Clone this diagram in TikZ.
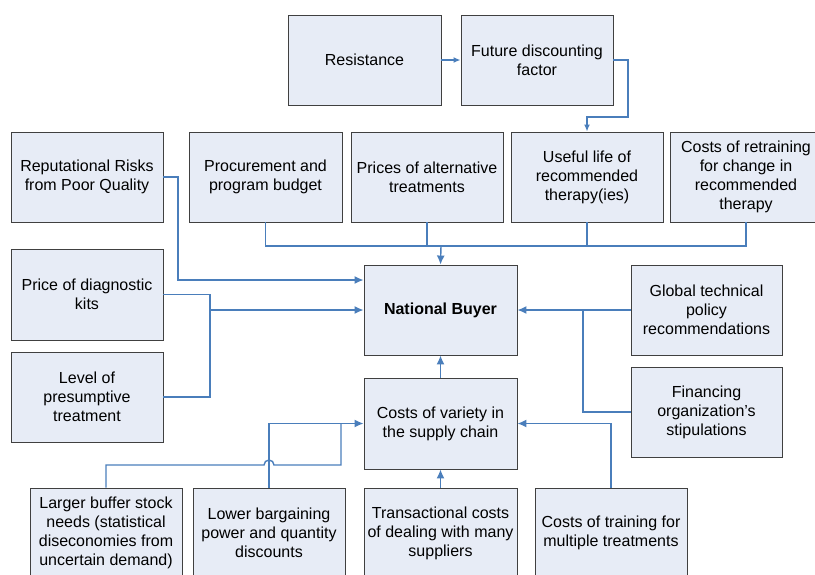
\documentclass[tikz,border=0pt]{standalone}
\usepackage{fontspec}
\setmainfont{Liberation Sans}
\usetikzlibrary{arrows.meta}
\definecolor{boxfill}{HTML}{E7ECF6}
\definecolor{boxline}{HTML}{404040}
\definecolor{linkblue}{HTML}{4A7EBB}
\tikzset{
	factor/.style={draw=boxline, line width=0.9pt, fill=boxfill, minimum width=152pt, minimum height=90pt, inner sep=2pt, align=center, font=\fontsize{16}{19}\selectfont},
	wire/.style={draw=linkblue, line width=1.4pt},
	link/.style={wire, -{Latex[length=9pt,width=8pt]}}
}

\begin{document}
\begin{tikzpicture}[x=1pt, y=-1pt]
		%%%%% START %%%%%
		\useasboundingbox (0, 0) rectangle (815, 574);
		
		% top chain
		\node[factor, minimum width=153pt] (res) at (364.5, 60) {Resistance};
		\node[factor] (fut) at (537, 60) {Future discounting\\factor};
		
		% second row
		\node[factor] (rep) at (87, 177) {Reputational Risks\\from Poor Quality};
		\node[factor, minimum width=153pt] (proc) at (265.5, 177) {Procurement and\\program budget};
		\node[factor] (prices) at (427, 177) {Prices of alternative\\treatments};
		\node[factor] (useful) at (587, 177) {Useful life of\\recommended\\therapy(ies)};
		\node[factor] (retrain) at (746, 177) {Costs of retraining\\for change in\\recommended\\therapy};
		
		% middle
		\node[factor, minimum height=91pt] (diag) at (87, 294.5) {Price of diagnostic\\kits};
		\node[factor] (level) at (87, 397) {Level of\\presumptive\\treatment};
		\node[factor, minimum width=153pt, font=\fontsize{16}{19}\selectfont\bfseries] (nb) at (440.5, 310) {National Buyer};
		\node[factor, minimum height=91pt, minimum width=153pt] (cov) at (440.5, 423.5) {Costs of variety in\\the supply chain};
		\node[factor, minimum width=151pt] (glob) at (706.5, 310) {Global technical\\policy\\recommendations};
		\node[factor, minimum width=151pt] (fin) at (706.5, 412) {Financing\\organization's\\stipulations};
		
		% bottom row
		\node[factor] (buffer) at (106, 533) {Larger buffer stock\\needs (statistical\\diseconomies from\\uncertain demand)};
		\node[factor] (lower) at (269, 533) {Lower bargaining\\power and quantity\\discounts};
		\node[factor, minimum width=153pt] (trans) at (440.5, 533) {Transactional costs\\of dealing with many\\suppliers};
		\node[factor] (train) at (611, 533) {Costs of training for\\multiple treatments};
		
		% connectors
		\coordinate (fbend) at (628, 117);
		\coordinate (topbus) at (441, 246);
		\coordinate (repbend) at (178, 280);
		\coordinate (kbus) at (210, 310);
		\coordinate (gbus) at (583, 310);
		\coordinate (hopl) at (264, 465);
		\coordinate (bbus) at (341, 465);
		
		\draw[link, -{Latex[length=7pt,width=6pt]}] (res) -- (fut);
		\draw[link, -{Latex[length=7pt,width=6pt]}] (fut.east) -| (fbend) -| (useful.north);
		
		\draw[wire] (proc.south) |- (topbus) -| (retrain.south);
		\draw[wire] (prices.south) |- (topbus);
		\draw[wire] (useful.south) |- (topbus);
		\draw[link] (topbus) -- (nb.north);
		
		\draw[link] (rep.east) -| (repbend) -- (repbend -| nb.west);
		\draw[wire] (diag.east) -| (kbus);
		\draw[wire] (level.east) -| (kbus);
		\draw[link] (kbus) -- (nb.west);
		
		\draw[link] (glob.west) -- (nb.east);
		\draw[wire] (fin.west) -| (gbus);
		
		\draw[link] (cov.north) -- (nb.south);
		\draw[link] (trans.north) -- (cov.south);
		\draw[link] (train.north) |- (cov.east);
		\draw[link] (lower.north) |- (cov.west);
		\draw[wire] (buffer.north) |- (hopl) arc (180:360:5) -- (bbus) -- (bbus |- cov.west);
		
		%%%%% END %%%%%
\end{tikzpicture}
\end{document}
